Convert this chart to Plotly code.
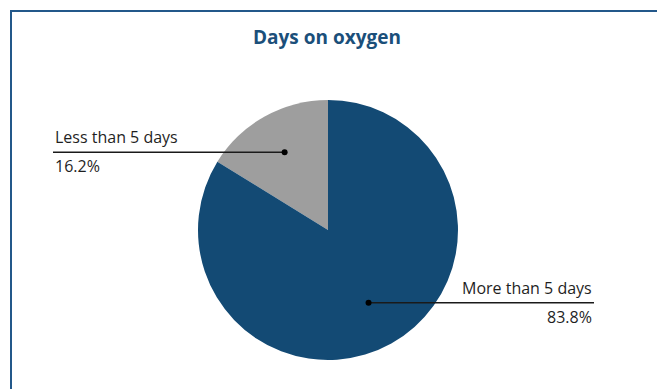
import math
import plotly.graph_objects as go

# Data
categories = ["Less than 5 days", "More than 5 days"]
shares = [16.2, 83.8]
pct_labels = ["16.2%", "83.8%"]
slice_colors = ["#9E9E9E", "#134A74"]
title_text = "Days on oxygen"

W, H = 657, 389
cx, cy, R = 328, 230, 130          # pie centre / radius in pixels
label_ends = [53, 594]            # where leader lines end (px)
dot_frac = [0.685, 0.64]

total = sum(shares)
first_deg = shares[0] / total * 360.0

fig = go.Figure()
fig.add_trace(go.Pie(
    labels=categories, values=shares, sort=False, direction="clockwise",
    rotation=-first_deg, marker=dict(colors=slice_colors, line=dict(width=0)),
    textinfo="none", hoverinfo="label+percent", showlegend=False,
    domain=dict(x=[(cx - R) / W, (cx + R) / W], y=[(H - cy - R) / H, (H - cy + R) / H]),
))

# leader lines computed from the data (mid-angle of each slice)
start = 0.0
for i, v in enumerate(shares):
    frac = v / total
    mid = start + frac / 2
    start += frac
    ang = mid * 2 * math.pi  # counterclockwise from 12 o'clock
    dx = -math.sin(ang) * R * dot_frac[i]
    dy = -math.cos(ang) * R * dot_frac[i]
    px, py = cx + dx, cy + dy
    lx = label_ends[i]
    fig.add_shape(type="line", xref="x", yref="y", x0=lx, x1=px, y0=py, y1=py,
                  line=dict(color="#1a1a1a", width=1.5), layer="above")
    fig.add_shape(type="circle", xref="x", yref="y", x0=px - 3, x1=px + 3,
                  y0=py - 3, y1=py + 3, fillcolor="#000000",
                  line=dict(width=0), layer="above")
    anchor = "left" if lx < px else "right"
    fig.add_annotation(x=lx, y=py - 2, xref="x", yref="y", text=categories[i],
                       xanchor=anchor, yanchor="bottom", showarrow=False,
                       font=dict(family="Open Sans", size=16, color="#1f1f1f"))
    fig.add_annotation(x=lx, y=py + 1, xref="x", yref="y", text=pct_labels[i],
                       xanchor=anchor, yanchor="top", showarrow=False,
                       font=dict(family="Open Sans", size=16, color="#1f1f1f"))

fig.add_annotation(x=327, y=37, xref="x", yref="y", text="<b>" + title_text + "</b>",
                   xanchor="center", yanchor="middle", showarrow=False,
                   font=dict(family="Open Sans", size=19, color="#1B4F7A"))

# frame
fig.add_shape(type="line", xref="x", yref="y", x0=11, x1=W, y0=11, y1=11,
              line=dict(color="#23588A", width=2))
fig.add_shape(type="line", xref="x", yref="y", x0=11, x1=11, y0=10, y1=H,
              line=dict(color="#23588A", width=2))

fig.update_layout(
    width=W, height=H, margin=dict(l=0, r=0, t=0, b=0),
    paper_bgcolor="white", plot_bgcolor="rgba(0,0,0,0)",
    xaxis=dict(range=[0, W], visible=False, fixedrange=True),
    yaxis=dict(range=[H, 0], visible=False, fixedrange=True),
)

fig.write_html("out.html")
